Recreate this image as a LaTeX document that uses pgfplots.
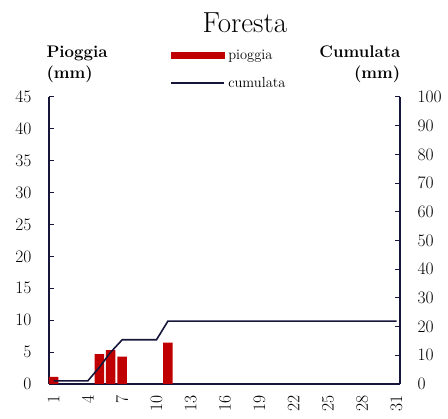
\documentclass[border=0pt]{standalone}
\usepackage{pgfplots}
\pgfplotsset{compat=1.18}
\definecolor{rain}{RGB}{192,0,0}
\definecolor{cum}{RGB}{22,22,58}

\begin{document}
\begin{tikzpicture}[x=1pt,y=1pt]
\pgfplotsset{
  common/.style={
    at={(0pt,0pt)}, anchor=south west,
    scale only axis, width=351pt, height=287pt,
    xmin=0.6, xmax=31.3,
    axis line style={cum, line width=1.1pt},
    tick style={cum, line width=1pt},
    tick align=inside, major tick length=5pt,
    /pgf/number format/assume math mode=true,
    ticklabel style={font=\fontsize{17.5}{19}\selectfont},
  }
}
% pioggia giornaliera (asse sinistro)
\begin{axis}[common, clip=false,
    ymin=0, ymax=45,
    axis x line*=bottom, axis y line*=left,
    xtick={1,4,...,31}, ytick={0,5,...,45},
    x tick style={draw=none},
    xticklabel style={rotate=90, anchor=east},
    xticklabel shift=8pt,
    yticklabel shift=14pt,
]
\addplot[ybar, bar width=9.5pt, fill=rain, draw=none] coordinates {
  (1,1.1) (5,4.7) (6,5.3) (7,4.3) (11,6.5)
};
\node[anchor=base west, font=\fontsize{16.8}{19}\selectfont\bfseries] at (rel axis cs:-0.017,1.139) {Pioggia};
\node[anchor=base west, font=\fontsize{16.8}{19}\selectfont\bfseries] at (rel axis cs:-0.017,1.066) {(mm)};
\node[anchor=base east, font=\fontsize{16.8}{19}\selectfont\bfseries] at (rel axis cs:1.011,1.139) {Cumulata};
\node[anchor=base east, font=\fontsize{16.8}{19}\selectfont\bfseries] at (rel axis cs:1.011,1.066) {(mm)};
\node[anchor=base, font=\fontsize{29}{32}\selectfont] at (rel axis cs:0.558,1.223) {Foresta};
\end{axis}
% cumulata (asse destro)
\begin{axis}[common,
    ymin=0, ymax=100,
    axis x line=none, axis y line*=right,
    ytick={0,10,...,100},
    yticklabel shift=14pt,
    legend style={at={(axis description cs:0.345,1.171)}, anchor=north west,
      draw=none, fill=none, inner sep=0pt, row sep=12pt,
      font=\fontsize{14.5}{16}\selectfont},
    legend cell align=left,
]
\addplot[cum, line width=1.6pt, forget plot] coordinates {
  (1,1.1) (2,1.1) (3,1.1) (4,1.1) (5,5.8) (6,11.1) (7,15.4) (8,15.4) (9,15.4)
  (10,15.4) (11,21.9) (12,21.9) (13,21.9) (14,21.9) (15,21.9) (16,21.9)
  (17,21.9) (18,21.9) (19,21.9) (20,21.9) (21,21.9) (22,21.9) (23,21.9)
  (24,21.9) (25,21.9) (26,21.9) (27,21.9) (28,21.9) (29,21.9) (30,21.9) (31,21.9)
};
\addlegendimage{legend image code/.code={\fill[rain] (0pt,-3pt) rectangle (53pt,3pt); \path (55pt,0pt);}}
\addlegendentry{pioggia}
\addlegendimage{legend image code/.code={\draw[cum, line width=1.6pt] (0pt,0pt) -- (53pt,0pt); \path (55pt,0pt);}}
\addlegendentry{cumulata}
\end{axis}
\path (-49pt,-35pt) rectangle (399pt,384pt);
\end{tikzpicture}
\end{document}
